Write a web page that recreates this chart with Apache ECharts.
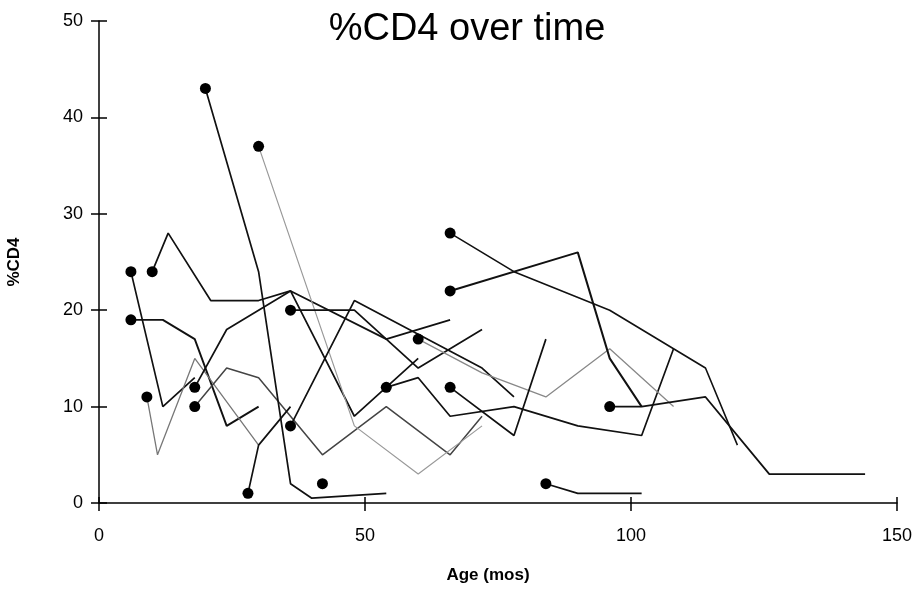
<!DOCTYPE html>
<html><head><meta charset="utf-8">
<script src="https://cdn.jsdelivr.net/npm/echarts/dist/echarts.min.js"></script>
<style>html,body{margin:0;padding:0;background:#fff}#c{width:915px;height:589px}</style>
</head><body><div id="c"></div>
<script>
// Tick labels
const xTicks = [0, 50, 100, 150];
const yTicks = [0, 10, 20, 30, 40, 50];
// Each subject: [age (months), %CD4] observations; first point is marked with a dot
const s01 = [[6,24],[12,10],[18,13]];
const s02 = [[10,24],[13,28],[21,21],[30,21],[36,22],[54,17],[66,19]];
const s03 = [[6,19],[12,19],[18,17],[24,8],[30,10]];
const s04 = [[9,11],[11,5],[18,15],[30,6]];
const s05 = [[18,12],[24,18],[36,22],[48,9],[60,15]];
const s06 = [[18,10],[24,14],[30,13],[42,5],[54,10],[66,5],[72,9]];
const s07 = [[20,43],[30,24],[36,2],[40,0.5],[54,1]];
const s08 = [[30,37],[48,8],[60,3],[72,8]];
const s09 = [[28,1],[30,6],[36,10]];
const s10 = [[36,20],[48,20],[60,14],[72,18]];
const s11 = [[36,8],[48,21],[60,17.5],[72,14],[78,11]];
const s12 = [[42,2]];
const s13 = [[54,12],[60,13],[66,9],[78,10],[90,8],[102,7],[108,16]];
const s14 = [[60,17],[72,13.5],[84,11],[96,16],[108,10]];
const s15 = [[66,28],[78,24],[96,20],[108,16],[114,14],[120,6]];
const s16 = [[66,22],[90,26],[96,15],[102,10]];
const s17 = [[66,12],[78,7],[84,17]];
const s18 = [[84,2],[90,1],[102,1]];
const s19 = [[96,10],[102,10],[114,11],[126,3],[144,3]];

const subjects = [s01,s02,s03,s04,s05,s06,s07,s08,s09,s10,s11,s12,s13,s14,s15,s16,s17,s18,s19];
// line styles (colour, width) per subject
const lineColors = ['#111','#111','#111','#777','#111','#444','#111','#999','#111','#111','#111','#111','#111','#888','#111','#111','#111','#111','#111'];
const lineWidths = [1.7,1.7,1.9,1.3,1.7,1.5,1.7,1.2,1.7,1.7,1.7,1.7,1.7,1.3,1.6,2.0,1.7,1.7,1.8];

const font = "'Liberation Sans',Arial,sans-serif";
const chart = echarts.init(document.getElementById('c'), null, {renderer:'canvas'});
const series = subjects.map((s,i)=>({
  type:'line', data:s, symbol:'none', silent:true, animation:false,
  xAxisIndex:0, yAxisIndex:0,
  lineStyle:{color:lineColors[i], width:lineWidths[i]}, z:2
}));
series.push({
  type:'scatter', data:subjects.map(s=>s[0]), symbol:'circle', symbolSize:11,
  itemStyle:{color:'#000', opacity:1}, silent:true, animation:false, z:3, xAxisIndex:0, yAxisIndex:0
});
const axisLine = {show:true, lineStyle:{color:'#000', width:1.5}};
chart.setOption({
  backgroundColor:'#fff',
  animation:false,
  title:{text:'%CD4 over time', left:462, top:6, textAlign:'center',
    textStyle:{fontFamily:font, fontWeight:'normal', fontSize:38, color:'#000'}},
  grid:{left:99, right:18, top:21, bottom:86, containLabel:false, outerBoundsMode:'none'},
  xAxis:[
    {type:'value', min:xTicks[0], max:xTicks[xTicks.length-1], interval:50,
     axisLine:axisLine, axisTick:{show:true, inside:false, length:8, lineStyle:{color:'#000',width:1.5}},
     axisLabel:{color:'#000', fontSize:18, margin:24, fontFamily:font},
     splitLine:{show:false},
     name:'Age (mos)', nameLocation:'middle', nameGap:64,
     nameTextStyle:{color:'#000', fontWeight:'bold', fontSize:17, fontFamily:font, padding:[0,20,0,0]}},
    {type:'value', min:xTicks[0], max:xTicks[xTicks.length-1], interval:50, position:'bottom',
     axisLine:{show:false}, axisTick:{show:true, inside:true, length:6, lineStyle:{color:'#000',width:1.5}},
     axisLabel:{show:false}, splitLine:{show:false}}
  ],
  yAxis:[
    {type:'value', min:yTicks[0], max:yTicks[yTicks.length-1], interval:10,
     axisLine:axisLine, axisTick:{show:true, inside:false, length:8, lineStyle:{color:'#000',width:1.5}},
     axisLabel:{color:'#000', fontSize:18, margin:16, fontFamily:font},
     splitLine:{show:false},
     name:'%CD4', nameLocation:'middle', nameGap:76, nameRotate:90,
     nameTextStyle:{color:'#000', fontWeight:'bold', fontSize:17, fontFamily:font}},
    {type:'value', min:yTicks[0], max:yTicks[yTicks.length-1], interval:10, position:'left',
     axisLine:{show:false}, axisTick:{show:true, inside:true, length:8, lineStyle:{color:'#000',width:1.5}},
     axisLabel:{show:false}, splitLine:{show:false}}
  ],
  series:series
});
</script></body></html>
